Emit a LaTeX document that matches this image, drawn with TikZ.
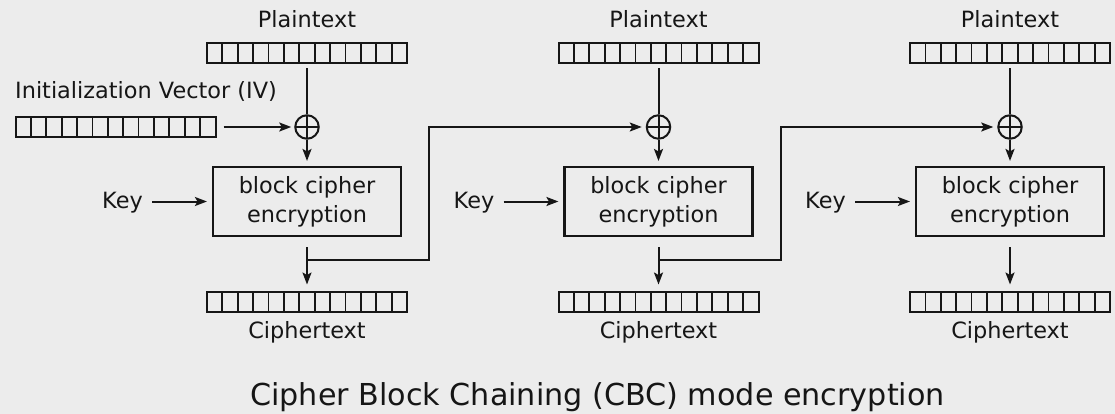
\documentclass[tikz,border=0pt]{standalone}
\usepackage{fontspec}
\setmainfont{DejaVu Sans}
\usetikzlibrary{arrows.meta,calc}
\definecolor{bg}{RGB}{236,236,236}
\definecolor{ink}{RGB}{22,22,22}
\begin{document}
\begin{tikzpicture}[x=1pt,y=-1pt,
  lab/.style={font=\fontsize{22.4}{26}\selectfont, text=ink, inner sep=0},
  reg/.style={draw=ink, line width=2pt, minimum width=200pt, minimum height=20pt, inner sep=0,
    path picture={\foreach \j in {1,...,12}{\draw[ink,line width=1.8pt]
      ([xshift=\j*15.3846pt]path picture bounding box.south west) --
      ([xshift=\j*15.3846pt]path picture bounding box.north west);}}},
  cipherbox/.style={draw=ink, line width=2.1pt, minimum width=188pt, minimum height=69pt,
    inner sep=0, align=center, font=\fontsize{22.4}{29}\selectfont, text=ink},
  xorop/.style={circle, draw=ink, line width=2pt, minimum size=23.5pt, inner sep=0,
    path picture={\draw[ink,line width=2pt]
      (path picture bounding box.north) -- (path picture bounding box.south)
      (path picture bounding box.west) -- (path picture bounding box.east);}},
  ln/.style={draw=ink, line width=2pt},
  arr/.style={draw=ink, line width=2pt, -{Stealth[length=12pt,width=9pt,inset=2.5pt]}},
  ttl/.style={font=\fontsize{30.2}{36}\selectfont, text=ink, inner sep=0}]
\useasboundingbox[fill=bg] (0,0) rectangle (1115,414);

\foreach \i/\cx in {1/307,2/658.5,3/1010}{
  \node[lab, anchor=base] (pt\i) at (\cx,28) {Plaintext};
  \node[reg] (p\i) at (\cx,53.5) {};
  \node[xorop] (x\i) at (\cx,127) {};
  \node[cipherbox] (b\i) at (\cx,201.5) {block cipher\\encryption};
  \node[lab, anchor=base east] (k\i) at (\cx-164,208) {Key};
  \node[reg] (c\i) at (\cx,301.5) {};
  \node[lab, anchor=base] (ct\i) at (\cx,338) {Ciphertext};
  \coordinate (f\i) at (\cx,260);
  \draw[ln] ([yshift=-4pt]p\i.south) -- (x\i.north);
  \draw[arr, shorten >=5pt] (x\i.south) -- (b\i.north);
  \draw[arr] ([xshift=9pt]k\i.east |- b\i.west) -- ([xshift=-5pt]b\i.west);
  \draw[arr] ([yshift=-10pt]b\i.south) -- ([yshift=6pt]c\i.north);
}

\node[lab, anchor=base west] (ivl) at (15,99) {Initialization Vector (IV)};
\node[reg] (iv) at (115.5,127) {};
\draw[arr, shorten <=7pt, shorten >=3pt] (iv) -- (x1);

\coordinate (t1) at (429,260);
\coordinate (t2) at (781,260);
\draw[arr, shorten >=4pt] (f1) -- (t1) |- (x2);
\draw[arr, shorten >=4pt] (f2) -- (t2) |- (x3);

\node[ttl, anchor=base west] (title) at (250,405) {Cipher Block Chaining (CBC) mode encryption};
\end{tikzpicture}
\end{document}
